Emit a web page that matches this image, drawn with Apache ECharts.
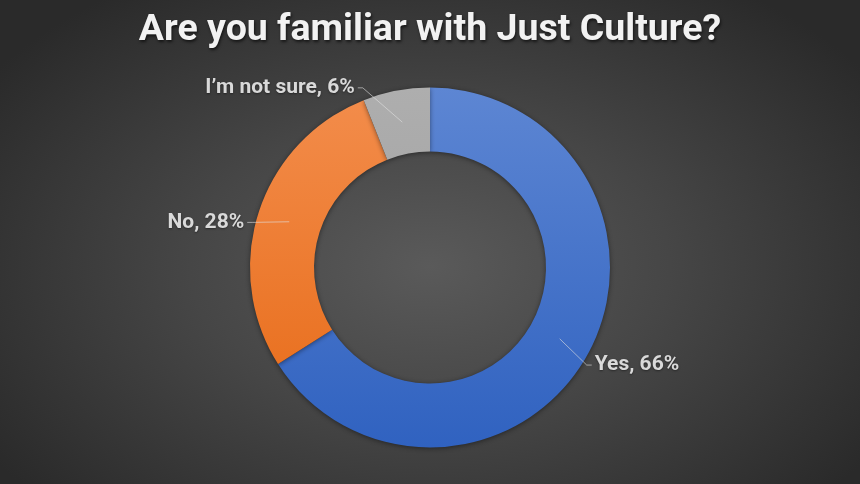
<!DOCTYPE html>
<html>
<head>
<meta charset="utf-8">
<script src="https://cdn.jsdelivr.net/npm/echarts@6/dist/echarts.min.js"></script>
<style>
html,body{margin:0;padding:0;width:860px;height:484px;overflow:hidden;}
#c{width:860px;height:484px;background:radial-gradient(ellipse 62% 70% at 50% 55%, #5a5a5a 0%, #464646 45%, #2a2a2a 100%);}
</style>
</head>
<body>
<div id="c"></div>
<script>
const titleText = 'Are you familiar with Just Culture?';
const categories = ['Yes', 'No', 'I\u2019m not sure'];
const values = [66, 28, 6];

// styling (kept separate from data)
const topColors = ['#5D86D3', '#F38D4C', '#AEAEAE'];
const bottomColors = ['#3062C0', '#E76A16', '#9A9A9A'];
const labelShift = [[-9, 7], [2, 13], [-31, 5]];

const cx = 430, cy = 267.5, rIn = 116, rOut = 180, rMid = 148;

const chart = echarts.init(document.getElementById('c'), null, {renderer: 'canvas'});

const ringData = categories.map((n, i) => ({
  name: n,
  value: values[i],
  itemStyle: {
    color: new echarts.graphic.LinearGradient(0, cy - rOut, 0, cy + rOut, [
      {offset: 0, color: topColors[i]},
      {offset: 1, color: bottomColors[i]}
    ], true)
  }
}));
const labelData = categories.map((n, i) => ({name: n, value: values[i]}));

chart.setOption({
  backgroundColor: 'transparent',
  title: {
    text: titleText,
    left: 'center',
    top: 7,
    textStyle: {
      fontFamily: 'Roboto',
      fontWeight: 'bold',
      fontSize: 37.5,
      color: '#f2f2f2',
      textShadowColor: 'rgba(0,0,0,0.6)',
      textShadowBlur: 3,
      textShadowOffsetX: 1,
      textShadowOffsetY: 2
    }
  },
  series: [{
    type: 'pie',
    z: 2,
    center: [cx, cy],
    radius: [rIn, rOut],
    startAngle: 90,
    clockwise: true,
    silent: true,
    data: ringData,
    itemStyle: {
      shadowColor: 'rgba(0,0,0,0.45)',
      shadowBlur: 5,
      shadowOffsetY: 1
    },
    label: {show: false},
    labelLine: {show: false}
  }, {
    type: 'pie',
    z: 5,
    center: [cx, cy],
    radius: [rIn, rOut],
    startAngle: 90,
    clockwise: true,
    avoidLabelOverlap: false,
    silent: true,
    data: labelData,
    itemStyle: {color: 'rgba(0,0,0,0)'},
    label: {
      show: true,
      position: 'outside',
      formatter: p => p.name + ', ' + p.value + '%',
      fontFamily: 'Roboto',
      fontWeight: 'bold',
      fontSize: 21,
      color: '#d9d9d9',
      textShadowColor: 'rgba(0,0,0,0.4)',
      textShadowBlur: 2,
      textShadowOffsetY: 1
    },
    labelLine: {
      show: true,
      showAbove: true,
      length: 8,
      length2: 6,
      lineStyle: {color: 'rgba(225,225,225,0.6)', width: 1}
    },
    labelLayout: function (p) {
      const pts = p.labelLinePoints;
      if (!pts) return {};
      const o = pts[0];
      const ang = Math.atan2(o[1] - cy, o[0] - cx);
      const start = [cx + rMid * Math.cos(ang), cy + rMid * Math.sin(ang)];
      const s = labelShift[p.dataIndex];
      const end = [pts[2][0] + s[0], pts[2][1] + s[1]];
      const right = Math.cos(ang) > 0;
      const bend = [end[0] + (right ? -5 : 5), end[1]];
      return {
        x: end[0] + (right ? 3 : -3),
        y: end[1],
        align: right ? 'left' : 'right',
        verticalAlign: 'middle',
        labelLinePoints: [start, bend, end]
      };
    }
  }]
});
</script>
</body>
</html>
